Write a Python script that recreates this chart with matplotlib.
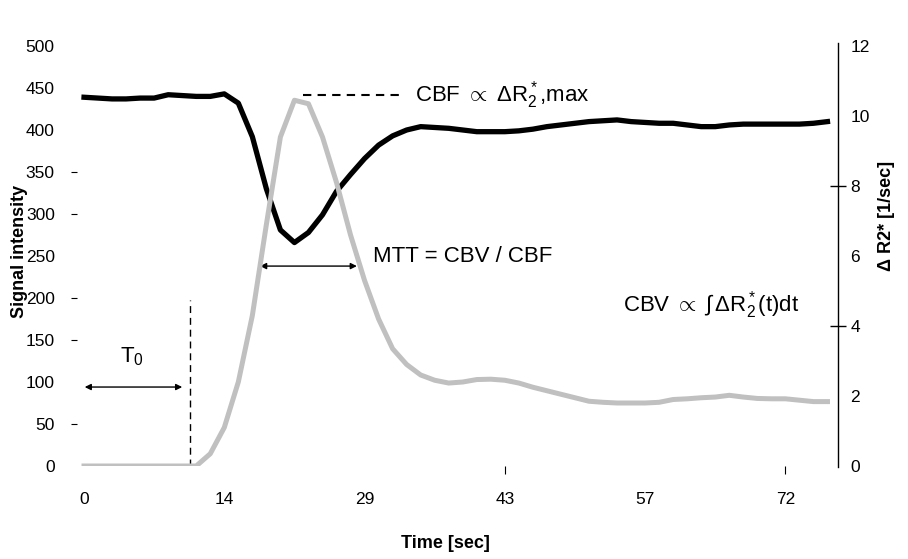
import matplotlib
matplotlib.use("Agg")
import matplotlib.pyplot as plt
from matplotlib import font_manager

# sample index (one frame every 1.43 s), labels every 10 frames
frames = list(range(54))
tick_pos = [0, 10, 20, 30, 40, 50]
tick_labels = ["0", "14", "29", "43", "57", "72"]

# signal intensity (left axis)
signal = [439, 438, 437, 437, 438, 438, 442, 441, 440, 440,
          443, 432, 392, 330, 281, 266, 278, 299, 327, 347,
          366, 382, 393, 400, 404, 403, 402, 400, 398, 398,
          398, 399, 401, 404, 406, 408, 410, 411, 412, 410,
          409, 408, 408, 406, 404, 404, 406, 407, 407, 407,
          407, 407, 408, 410]

# delta R2* (right axis)
dr2 = [0, 0, 0, 0, 0, 0, 0, 0, 0, 0.35,
       1.1, 2.4, 4.3, 6.9, 9.4, 10.45, 10.35, 9.4, 8.1, 6.6,
       5.3, 4.2, 3.35, 2.9, 2.6, 2.45, 2.37, 2.4, 2.47, 2.48,
       2.45, 2.37, 2.25, 2.15, 2.05, 1.95, 1.85, 1.82, 1.8, 1.8,
       1.8, 1.82, 1.9, 1.92, 1.95, 1.97, 2.02, 1.97, 1.93, 1.92,
       1.92, 1.88, 1.84, 1.84]

names = {f.name for f in font_manager.fontManager.ttflist}
narrow = "Liberation Sans Narrow" in names
axis_font = "Liberation Sans Narrow" if narrow else "Liberation Sans"
tick_size = 14.5 if narrow else 12.5
label_size = 15 if narrow else 13

plt.rcParams["font.family"] = ["Liberation Sans", "DejaVu Sans"]
plt.rcParams["mathtext.fontset"] = "custom"
plt.rcParams["mathtext.rm"] = "Liberation Sans"
plt.rcParams["mathtext.it"] = "Liberation Sans"
plt.rcParams["mathtext.bf"] = "Liberation Sans:bold"

fig = plt.figure(figsize=(9.08, 5.59), dpi=100)
ax = fig.add_axes([77 / 908, 1 - 466 / 559, (838 - 77) / 908, 420 / 559])
ax2 = ax.twinx()

ax.plot(frames, signal, color="black", lw=3.8, solid_joinstyle="round")
ax2.plot(frames, dr2, color="#c0c0c0", lw=3.6, solid_joinstyle="round")

ax.set_xlim(-0.5, 53.75)
ax.set_ylim(0, 500)
ax2.set_ylim(0, 12)

for s in ["left", "top", "bottom", "right"]:
    ax.spines[s].set_visible(False)
for s in ["left", "top", "bottom"]:
    ax2.spines[s].set_visible(False)
ax2.spines["right"].set_bounds(-0.03, 12.1)
ax2.spines["right"].set_linewidth(1.0)

# keep the few stray tick marks of the original
ax.xaxis.remove_overlapping_locs = False
ax.yaxis.remove_overlapping_locs = False
ax2.yaxis.remove_overlapping_locs = False

ax.set_xticks(tick_pos)
ax.set_xticklabels(tick_labels, fontfamily=axis_font, fontsize=tick_size)
ax.set_xticks([30, 50], minor=True)
ax.tick_params(axis="x", which="major", length=0, pad=19)
ax.tick_params(axis="x", which="minor", length=6, width=0.8, direction="out")

ax.set_yticks(range(0, 501, 50))
ax.set_yticklabels([str(v) for v in range(0, 501, 50)],
                   fontfamily=axis_font, fontsize=tick_size)
ax.set_yticks([50, 150, 200, 300, 350], minor=True)
ax.tick_params(axis="y", which="major", length=0, pad=16)
ax.tick_params(axis="y", which="minor", length=4, width=0.8, direction="out")

ax2.set_yticks(range(0, 13, 2))
ax2.set_yticklabels([str(v) for v in range(0, 13, 2)],
                    fontfamily=axis_font, fontsize=tick_size)
ax2.set_yticks([4, 8], minor=True)
ax2.tick_params(axis="y", which="major", length=0, pad=9)
ax2.tick_params(axis="y", which="minor", length=12, width=1.0, direction="inout")

ax.set_xlabel("Time [sec]", fontfamily=axis_font, fontsize=label_size,
              fontweight="bold")
ax.xaxis.set_label_coords((445 - 77) / 761, -(535 - 466) / 420)
ax.xaxis.label.set_va("top")
ax.set_ylabel("Signal intensity", fontfamily=axis_font, fontsize=label_size,
              fontweight="bold")
ax.yaxis.set_label_coords((28 - 77) / 761, (466 - 251) / 420)
ax2.set_ylabel("\u0394 R2* [1/sec]", fontfamily=axis_font, fontsize=label_size,
               fontweight="bold")
ax2.yaxis.set_label_coords((878 - 77) / 761, (466 - 216) / 420)

# annotations
ann = 16
ax.plot([15.6, 22.6], [442, 442], color="black", lw=1.5, ls=(0, (4, 3)))
ax.text(23.6, 442, r"CBF $\propto$ $\Delta$R$_2^*$,max", fontsize=ann,
        va="center", ha="left")

arrow = dict(arrowstyle="<|-|>", lw=1.0, color="black", mutation_scale=9,
             shrinkA=0, shrinkB=0)
ax.annotate("", xy=(12.55, 238), xytext=(19.45, 238), arrowprops=arrow)
ax.text(20.6, 249, "MTT = CBV / CBF", fontsize=ann, va="center", ha="left")

ax.text(38.4, 192, r"CBV $\propto$ $\int\,\Delta$R$_2^*$(t)dt", fontsize=ann,
        va="center", ha="left")

ax.annotate("", xy=(0.05, 94), xytext=(7.0, 94), arrowprops=arrow)
ax.text(2.55, 130, r"T$_0$", fontsize=ann, va="center", ha="left")
ax.plot([7.56, 7.56], [0, 198], color="black", lw=1.0, ls=(0, (5, 3.5)))

fig.savefig("out.png", dpi=100)
